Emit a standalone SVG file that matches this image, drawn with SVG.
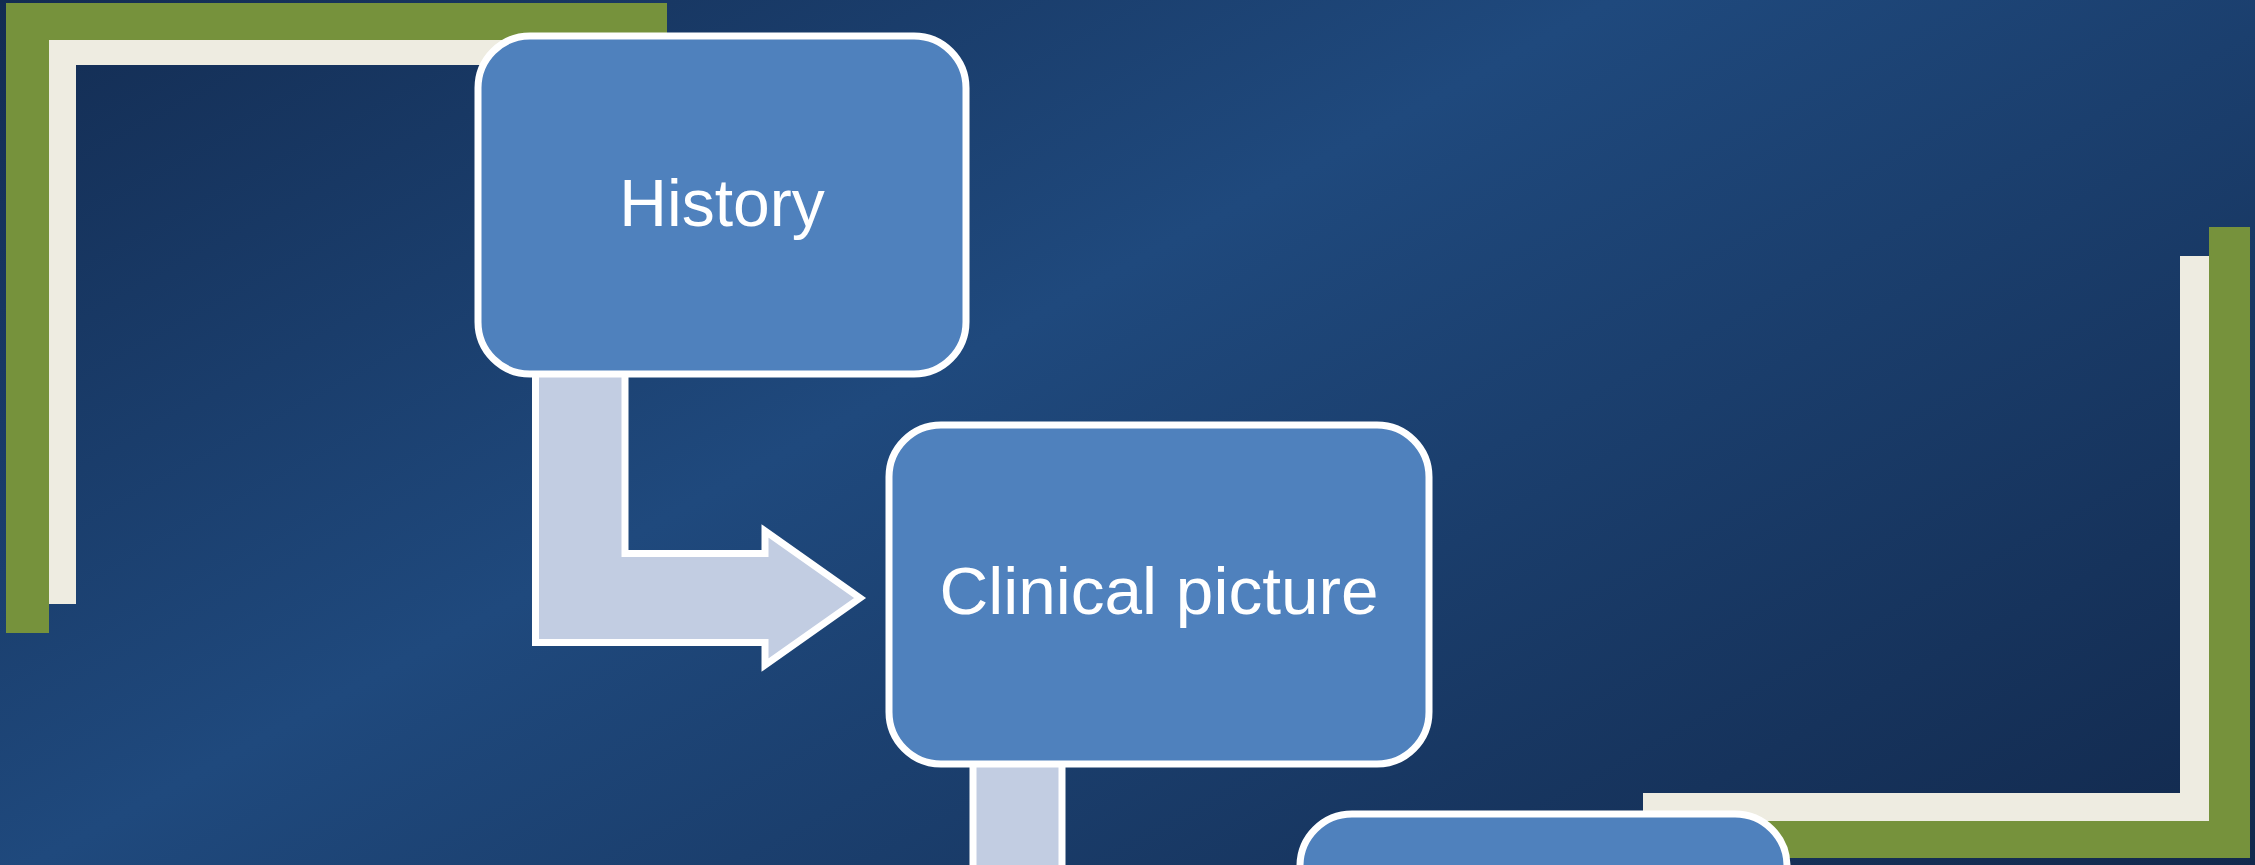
<svg xmlns="http://www.w3.org/2000/svg" width="2255" height="865" viewBox="0 0 2255 865">
  <defs>
    <linearGradient id="bg" gradientUnits="userSpaceOnUse" x1="0" y1="0" x2="881" y2="1615">
      <stop offset="0" stop-color="#132C52"/>
      <stop offset="0.42" stop-color="#1F497D"/>
      <stop offset="1" stop-color="#12294D"/>
    </linearGradient>
  </defs>
  <style>
    .green { fill: #76923C; }
    .cream { fill: #EEECE1; }
    .box { fill: #4F81BD; stroke: #FFFFFF; stroke-width: 7; }
    .arrow { fill: #C2CDE2; stroke: #FFFFFF; stroke-width: 7; stroke-linejoin: miter; }
    .label { font-family: "Liberation Sans", Arial, sans-serif; font-size: 66px; fill: #FFFFFF; text-anchor: middle; }
  </style>
  <rect x="0" y="0" width="2255" height="865" fill="url(#bg)"/>

  <g id="decor-top-left">
    <rect class="green" x="6" y="3" width="661" height="37"/>
    <rect class="green" x="6" y="3" width="43" height="630"/>
    <rect class="cream" x="49" y="40" width="500" height="25"/>
    <rect class="cream" x="49" y="40" width="27" height="564"/>
  </g>
  <g id="decor-bottom-right">
    <rect class="green" x="2209" y="227" width="41" height="631"/>
    <rect class="green" x="1643" y="821" width="607" height="37"/>
    <rect class="cream" x="2180" y="256" width="29" height="565"/>
    <rect class="cream" x="1643" y="793" width="566" height="28"/>
  </g>

  <g id="connectors">
    <path class="arrow" d="M535.5,368 L625,368 L625,553.5 L765,553.5 L765,531 L860,598 L765,665 L765,642.5 L535.5,642.5 Z"/>
    <path class="arrow" d="M973,755 L1062,755 L1062,950 L1200,950 L1200,928 L1295,995 L1200,1062 L1200,1040 L973,1040 Z"/>
  </g>

  <g id="node-history">
    <rect class="box" x="478" y="36" width="488" height="338" rx="52" ry="52"/>
    <text class="label" x="722" y="226">History</text>
  </g>
  <g id="node-clinical">
    <rect class="box" x="889" y="425" width="540" height="339" rx="52" ry="52"/>
    <text class="label" x="1159" y="614" style="font-size:67.5px">Clinical picture</text>
  </g>
  <g id="node-third">
    <rect class="box" x="1300" y="814" width="487" height="340" rx="52" ry="52"/>
  </g>
</svg>
